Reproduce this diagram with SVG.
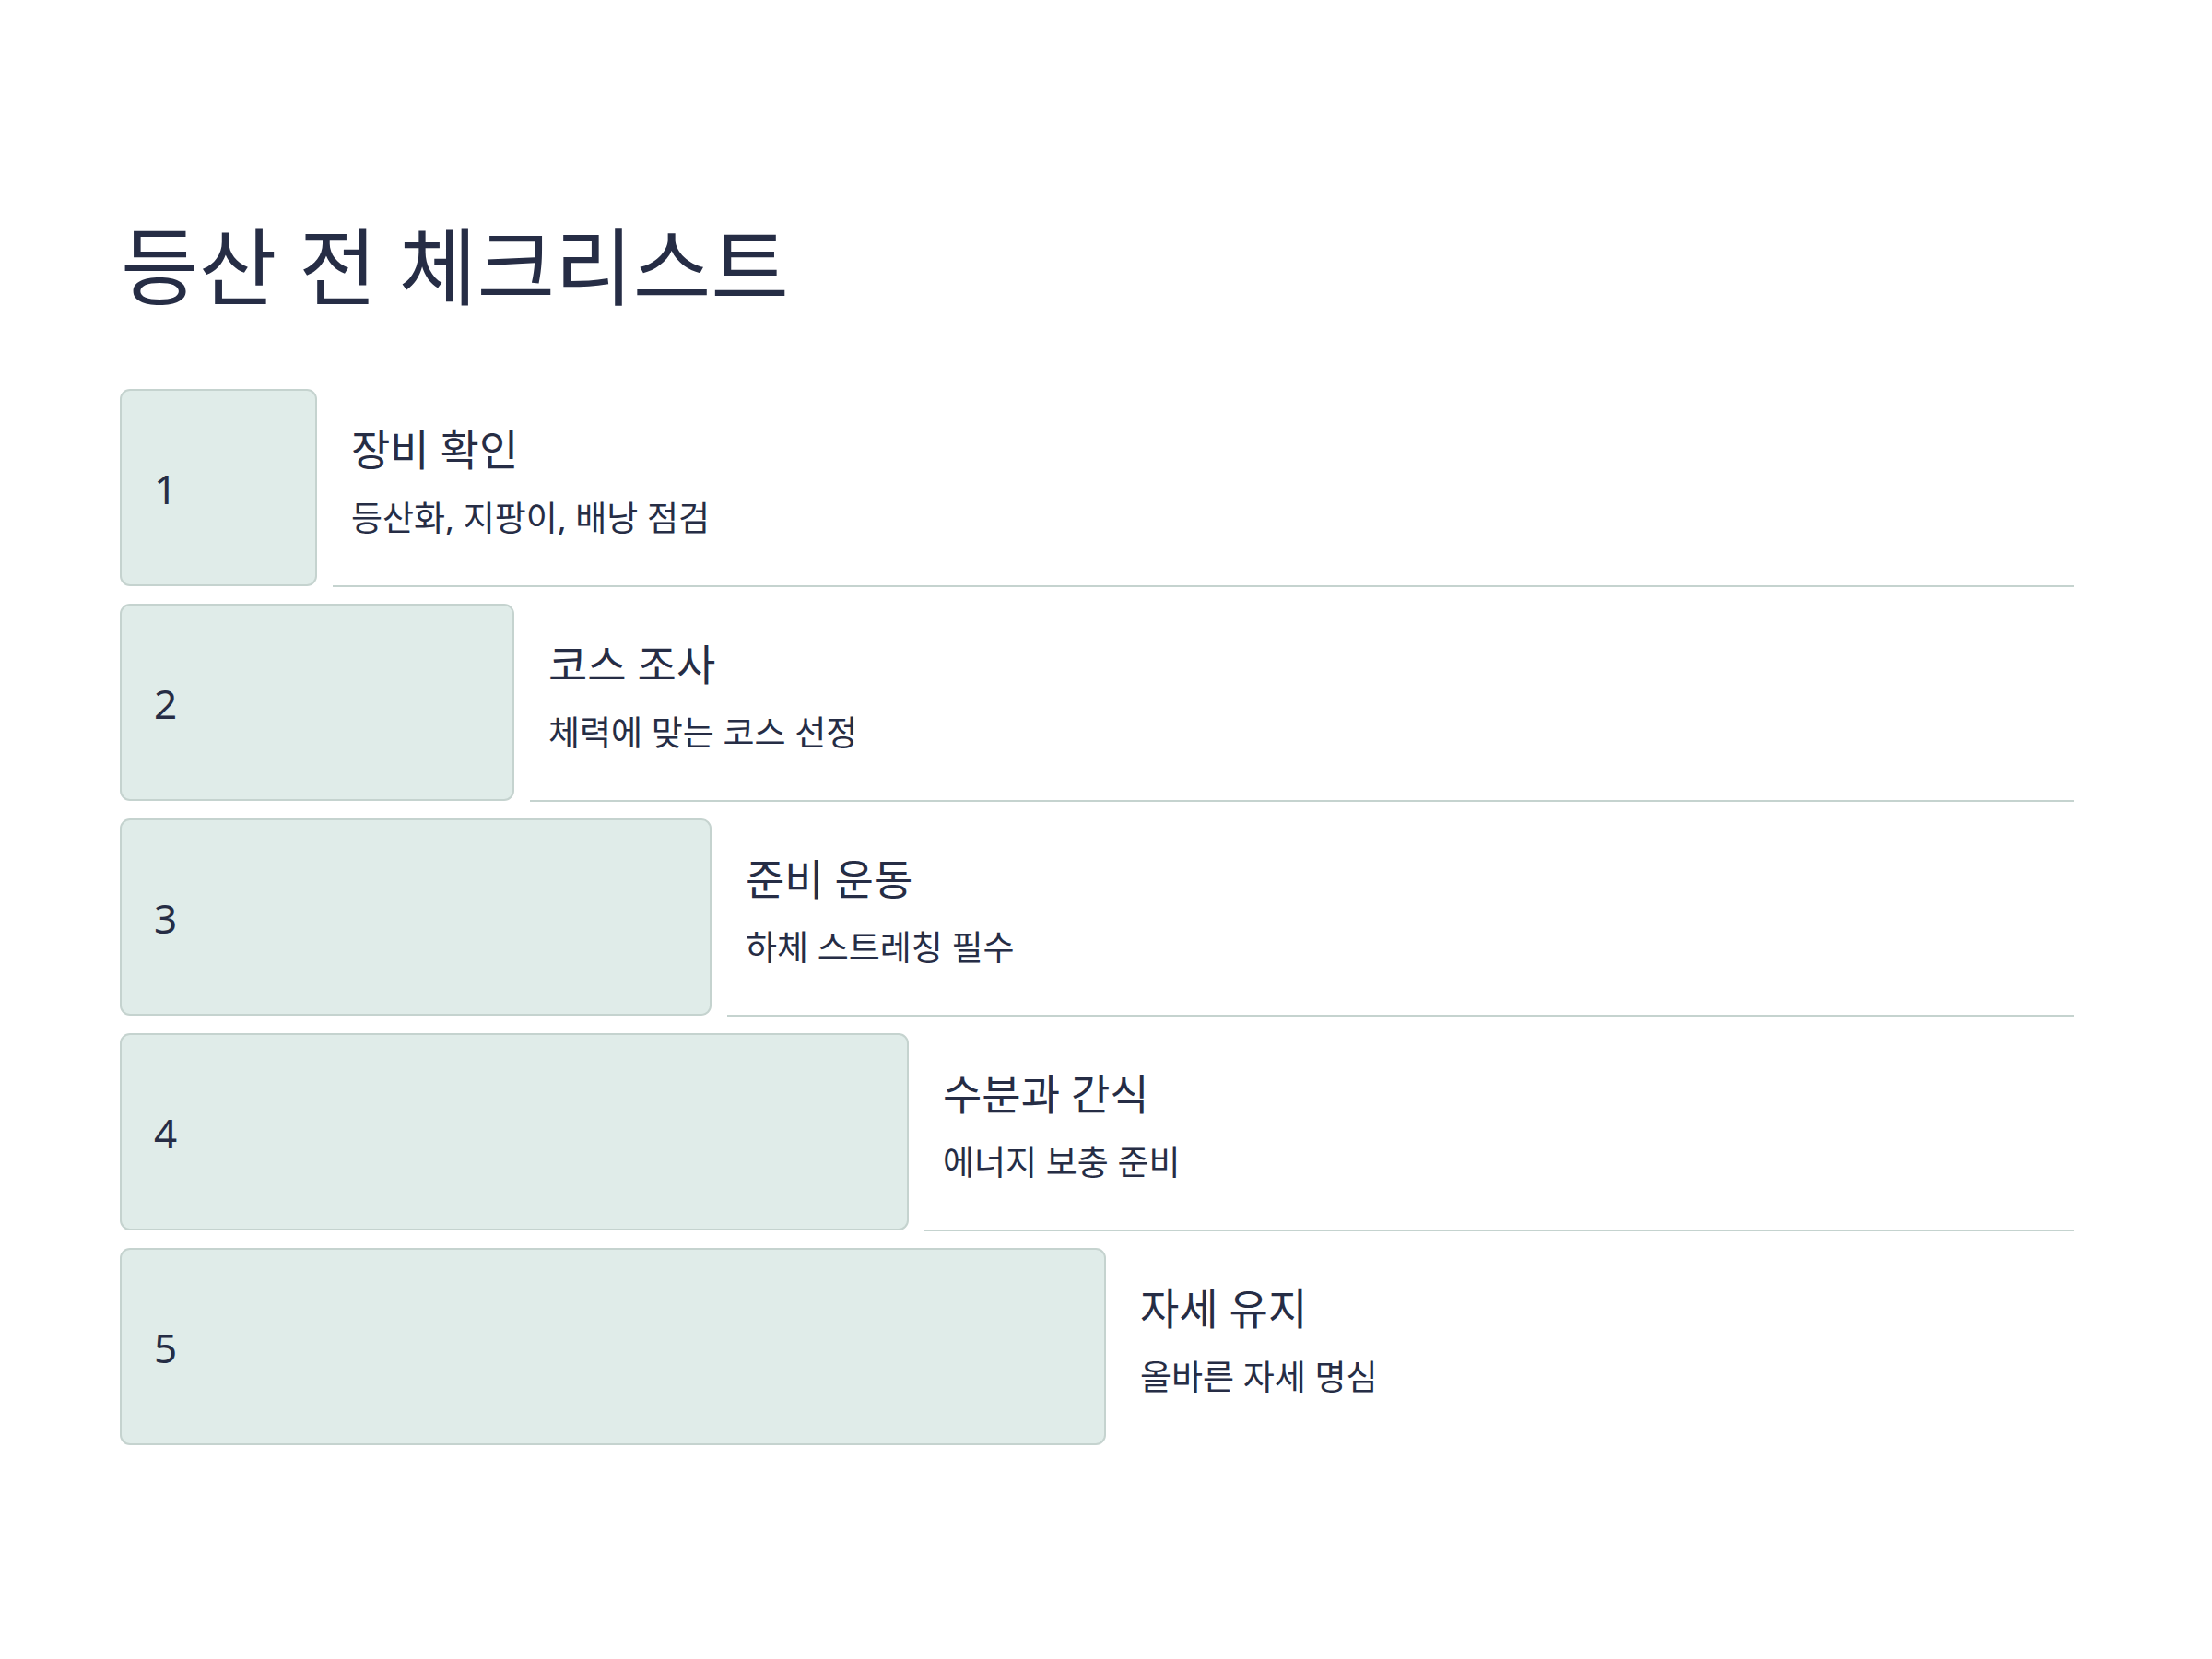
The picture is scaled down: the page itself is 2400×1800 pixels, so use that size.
<svg xmlns="http://www.w3.org/2000/svg" width="2400" height="1800" viewBox="0 0 2400 1800">
<style>
.bg{fill:#ffffff}
.box{fill:#e0ece9;stroke:#c5d3cf;stroke-width:2}
.sep{stroke:#c5d3cf;stroke-width:2}
text{fill:#262d45;font-family:"Noto Sans","Noto Sans CJK KR",sans-serif}
.title{font-size:92px}
.num{font-size:44px}
.head{font-size:46px}
.sub{font-size:37px}
</style>
<rect class="bg" x="0" y="0" width="2400" height="1800"/>
<text class="title" x="131" y="324">등산 전 체크리스트</text>
<g id="connectors">
<line class="sep" x1="361" y1="636" x2="2250" y2="636"/>
<line class="sep" x1="575" y1="869" x2="2250" y2="869"/>
<line class="sep" x1="789" y1="1102" x2="2250" y2="1102"/>
<line class="sep" x1="1003" y1="1335" x2="2250" y2="1335"/>
</g>
<g id="step1">
<rect class="box" x="131" y="423" width="212" height="212" rx="10"/>
<text class="num" x="167" y="547">1</text>
<text class="head" x="381" y="505">장비 확인</text>
<text class="sub" x="381" y="576">등산화, 지팡이, 배낭 점검</text>
</g>
<g id="step2">
<rect class="box" x="131" y="656" width="426" height="212" rx="10"/>
<text class="num" x="167" y="780">2</text>
<text class="head" x="595" y="738">코스 조사</text>
<text class="sub" x="595" y="809">체력에 맞는 코스 선정</text>
</g>
<g id="step3">
<rect class="box" x="131" y="889" width="640" height="212" rx="10"/>
<text class="num" x="167" y="1013">3</text>
<text class="head" x="809" y="971">준비 운동</text>
<text class="sub" x="809" y="1042">하체 스트레칭 필수</text>
</g>
<g id="step4">
<rect class="box" x="131" y="1122" width="854" height="212" rx="10"/>
<text class="num" x="167" y="1246">4</text>
<text class="head" x="1023" y="1204">수분과 간식</text>
<text class="sub" x="1023" y="1275">에너지 보충 준비</text>
</g>
<g id="step5">
<rect class="box" x="131" y="1355" width="1068" height="212" rx="10"/>
<text class="num" x="167" y="1479">5</text>
<text class="head" x="1237" y="1437">자세 유지</text>
<text class="sub" x="1237" y="1508">올바른 자세 명심</text>
</g>
</svg>
